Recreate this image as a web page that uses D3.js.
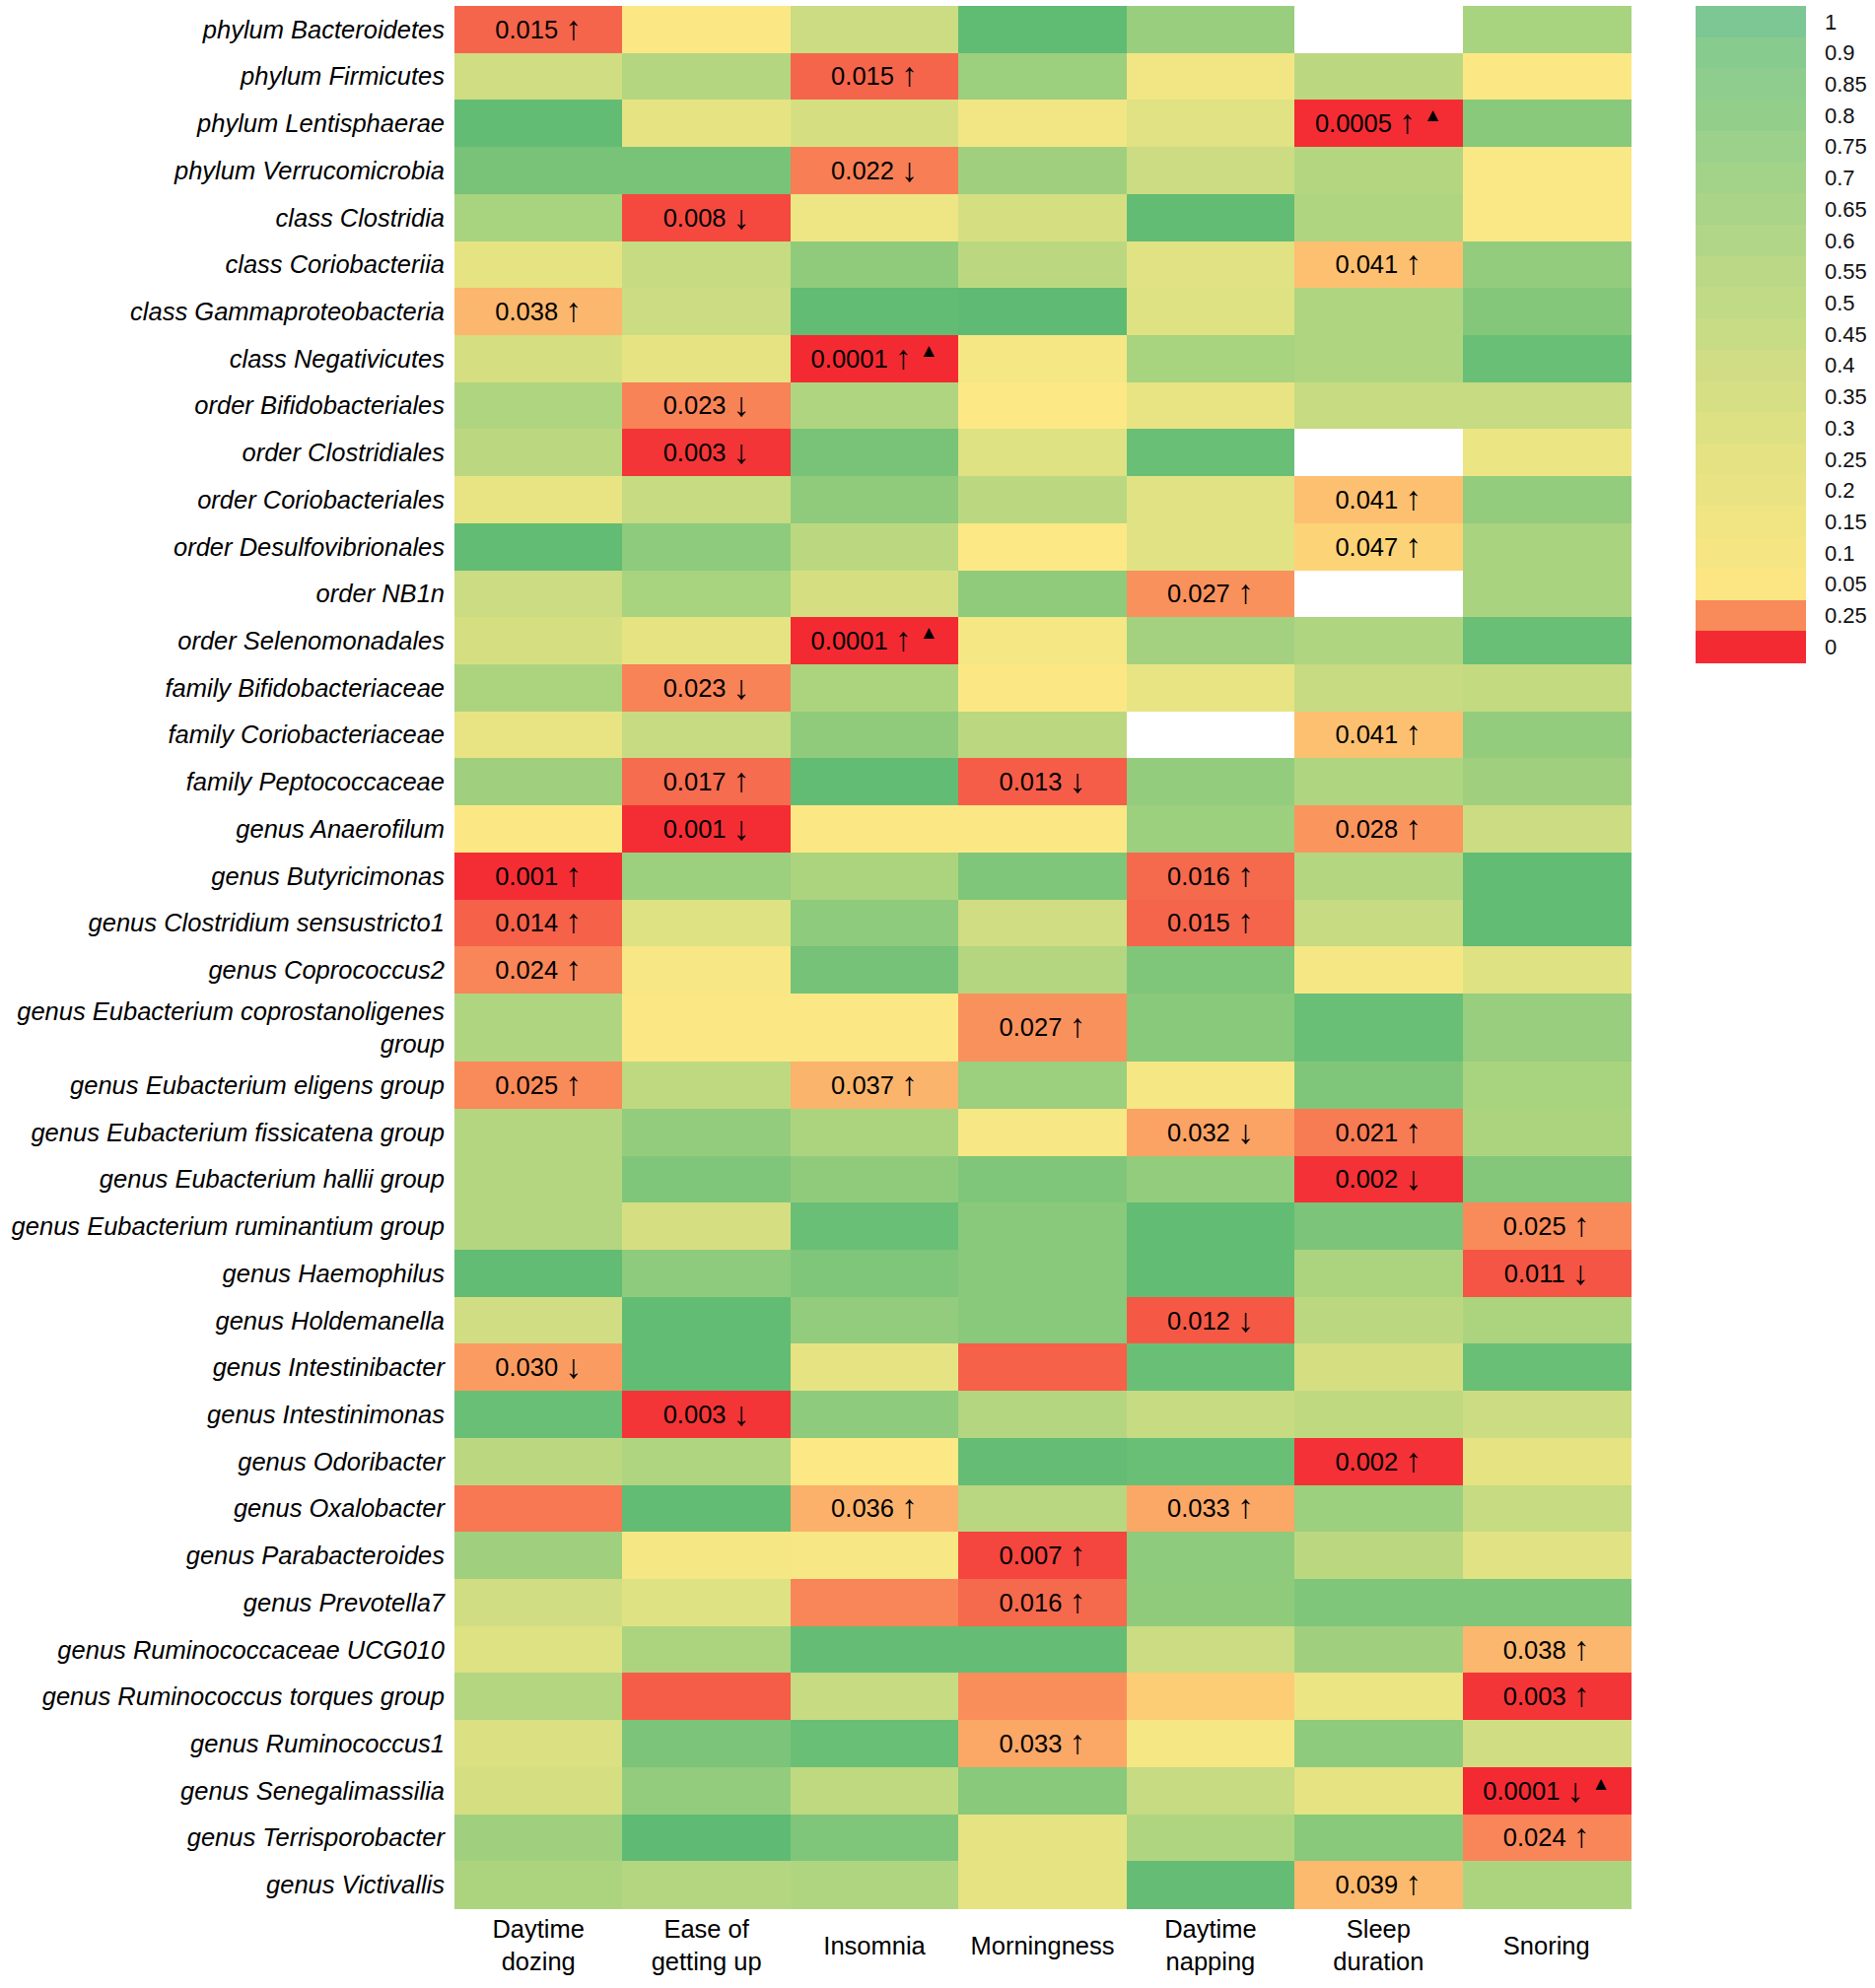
<!DOCTYPE html>
<html><head><meta charset="utf-8">
<script src="https://cdn.jsdelivr.net/npm/d3@7"></script>
<style>body{margin:0;background:#fff}</style>
</head><body>
<svg id="chart" width="1902" height="2017"></svg>
<script>
// ---------------- DATA ----------------
const taxa = [
  "phylum Bacteroidetes","phylum Firmicutes","phylum Lentisphaerae","phylum Verrucomicrobia",
  "class Clostridia","class Coriobacteriia","class Gammaproteobacteria","class Negativicutes",
  "order Bifidobacteriales","order Clostridiales","order Coriobacteriales","order Desulfovibrionales",
  "order NB1n","order Selenomonadales","family Bifidobacteriaceae","family Coriobacteriaceae",
  "family Peptococcaceae","genus Anaerofilum","genus Butyricimonas","genus Clostridium sensustricto1",
  "genus Coprococcus2","genus Eubacterium coprostanoligenes group","genus Eubacterium eligens group",
  "genus Eubacterium fissicatena group","genus Eubacterium hallii group","genus Eubacterium ruminantium group",
  "genus Haemophilus","genus Holdemanella","genus Intestinibacter","genus Intestinimonas",
  "genus Odoribacter","genus Oxalobacter","genus Parabacteroides","genus Prevotella7",
  "genus Ruminococcaceae UCG010","genus Ruminococcus torques group","genus Ruminococcus1",
  "genus Senegalimassilia","genus Terrisporobacter","genus Victivallis"
];
const traits = ["Daytime dozing","Ease of getting up","Insomnia","Morningness","Daytime napping","Sleep duration","Snoring"];

// p-values per trait (row order = taxa); null = no value
const daytimeDozing   = [0.015,0.40,0.93,0.85,0.62,0.25,0.038,0.37,0.58,0.52,0.23,0.93,0.43,0.37,0.60,0.23,0.66,0.07,0.001,0.014,0.024,0.58,0.025,0.56,0.56,0.56,0.93,0.40,0.030,0.90,0.52,0.020,0.66,0.40,0.31,0.56,0.33,0.37,0.66,0.60];
const easeOfGettingUp = [0.07,0.56,0.25,0.85,0.008,0.46,0.43,0.25,0.023,0.003,0.46,0.75,0.62,0.25,0.023,0.46,0.017,0.001,0.68,0.31,0.10,0.07,0.50,0.72,0.82,0.37,0.75,0.93,0.93,0.003,0.58,0.93,0.12,0.31,0.60,0.013,0.84,0.72,0.96,0.56];
const insomnia        = [0.43,0.015,0.37,0.022,0.18,0.74,0.93,0.0001,0.58,0.85,0.74,0.52,0.37,0.0001,0.60,0.74,0.93,0.07,0.60,0.75,0.86,0.07,0.037,0.60,0.74,0.90,0.82,0.72,0.25,0.75,0.06,0.036,0.10,0.024,0.92,0.46,0.90,0.50,0.82,0.58];
const morningness     = [0.95,0.68,0.15,0.66,0.37,0.52,0.96,0.12,0.06,0.31,0.52,0.06,0.74,0.12,0.07,0.52,0.013,0.07,0.82,0.40,0.56,0.027,0.68,0.10,0.82,0.78,0.78,0.78,0.014,0.56,0.92,0.54,0.007,0.016,0.92,0.026,0.033,0.78,0.25,0.25];
const daytimeNapping  = [0.70,0.15,0.30,0.43,0.93,0.30,0.31,0.62,0.23,0.90,0.30,0.30,0.027,0.64,0.23,null,0.72,0.68,0.016,0.015,0.82,0.78,0.12,0.032,0.72,0.93,0.93,0.012,0.90,0.46,0.90,0.033,0.75,0.74,0.43,0.045,0.12,0.46,0.58,0.92];
const sleepDuration   = [null,0.52,0.0005,0.56,0.58,0.041,0.58,0.58,0.46,null,0.041,0.047,null,0.58,0.46,0.041,0.58,0.028,0.56,0.46,0.12,0.90,0.82,0.021,0.002,0.84,0.60,0.52,0.37,0.50,0.002,0.68,0.52,0.82,0.66,0.20,0.75,0.25,0.78,0.039];
const snoring         = [0.62,0.07,0.78,0.08,0.08,0.72,0.80,0.90,0.46,0.20,0.72,0.61,0.61,0.90,0.48,0.72,0.66,0.43,0.93,0.93,0.31,0.70,0.62,0.60,0.80,0.025,0.011,0.60,0.90,0.43,0.25,0.46,0.30,0.82,0.038,0.003,0.40,0.0001,0.024,0.60];
const seriesByTrait = [daytimeDozing,easeOfGettingUp,insomnia,morningness,daytimeNapping,sleepDuration,snoring];

// labelled cells: [taxon, trait, p text, direction, marked with triangle]
const annotations = [
  ["phylum Bacteroidetes","Daytime dozing","0.015","↑",false],
  ["phylum Firmicutes","Insomnia","0.015","↑",false],
  ["phylum Lentisphaerae","Sleep duration","0.0005","↑",true],
  ["phylum Verrucomicrobia","Insomnia","0.022","↓",false],
  ["class Clostridia","Ease of getting up","0.008","↓",false],
  ["class Coriobacteriia","Sleep duration","0.041","↑",false],
  ["class Gammaproteobacteria","Daytime dozing","0.038","↑",false],
  ["class Negativicutes","Insomnia","0.0001","↑",true],
  ["order Bifidobacteriales","Ease of getting up","0.023","↓",false],
  ["order Clostridiales","Ease of getting up","0.003","↓",false],
  ["order Coriobacteriales","Sleep duration","0.041","↑",false],
  ["order Desulfovibrionales","Sleep duration","0.047","↑",false],
  ["order NB1n","Daytime napping","0.027","↑",false],
  ["order Selenomonadales","Insomnia","0.0001","↑",true],
  ["family Bifidobacteriaceae","Ease of getting up","0.023","↓",false],
  ["family Coriobacteriaceae","Sleep duration","0.041","↑",false],
  ["family Peptococcaceae","Ease of getting up","0.017","↑",false],
  ["family Peptococcaceae","Morningness","0.013","↓",false],
  ["genus Anaerofilum","Ease of getting up","0.001","↓",false],
  ["genus Anaerofilum","Sleep duration","0.028","↑",false],
  ["genus Butyricimonas","Daytime dozing","0.001","↑",false],
  ["genus Butyricimonas","Daytime napping","0.016","↑",false],
  ["genus Clostridium sensustricto1","Daytime dozing","0.014","↑",false],
  ["genus Clostridium sensustricto1","Daytime napping","0.015","↑",false],
  ["genus Coprococcus2","Daytime dozing","0.024","↑",false],
  ["genus Eubacterium coprostanoligenes group","Morningness","0.027","↑",false],
  ["genus Eubacterium eligens group","Daytime dozing","0.025","↑",false],
  ["genus Eubacterium eligens group","Insomnia","0.037","↑",false],
  ["genus Eubacterium fissicatena group","Daytime napping","0.032","↓",false],
  ["genus Eubacterium fissicatena group","Sleep duration","0.021","↑",false],
  ["genus Eubacterium hallii group","Sleep duration","0.002","↓",false],
  ["genus Eubacterium ruminantium group","Snoring","0.025","↑",false],
  ["genus Haemophilus","Snoring","0.011","↓",false],
  ["genus Holdemanella","Daytime napping","0.012","↓",false],
  ["genus Intestinibacter","Daytime dozing","0.030","↓",false],
  ["genus Intestinimonas","Ease of getting up","0.003","↓",false],
  ["genus Odoribacter","Sleep duration","0.002","↑",false],
  ["genus Oxalobacter","Insomnia","0.036","↑",false],
  ["genus Oxalobacter","Daytime napping","0.033","↑",false],
  ["genus Parabacteroides","Morningness","0.007","↑",false],
  ["genus Prevotella7","Morningness","0.016","↑",false],
  ["genus Ruminococcaceae UCG010","Snoring","0.038","↑",false],
  ["genus Ruminococcus torques group","Snoring","0.003","↑",false],
  ["genus Ruminococcus1","Morningness","0.033","↑",false],
  ["genus Senegalimassilia","Snoring","0.0001","↓",true],
  ["genus Terrisporobacter","Snoring","0.024","↑",false],
  ["genus Victivallis","Sleep duration","0.039","↑",false]
];

const legendLabels = ["1","0.9","0.85","0.8","0.75","0.7","0.65","0.6","0.55","0.5","0.45","0.4","0.35","0.3","0.25","0.2","0.15","0.1","0.05","0.25","0"];
const legendValues = [1,0.9,0.85,0.8,0.75,0.7,0.65,0.6,0.55,0.5,0.45,0.4,0.35,0.3,0.25,0.2,0.15,0.1,0.05,0.025,0];

// ---------------- SCALES / STYLE ----------------
const FONT = "'Liberation Sans', Arial, Helvetica, sans-serif";
const svg = d3.select("#chart");
svg.append("rect").attr("width",1902).attr("height",2017).attr("fill","#fff");

const greenScale = d3.scaleLinear()
  .domain([0.05,0.15,0.3,0.43,0.56,0.68,0.82,0.93,1])
  .range(["#FDE885","#F2E684","#E0E283","#CCDC82","#B4D680","#9CCF7E","#80C67A","#62BC74","#5CBA72"])
  .clamp(true);
const sigScale = d3.scaleLinear()
  .domain([0,0.001,0.015,0.025,0.035,0.05])
  .range(["#F42A32","#F42D34","#F5654B","#F98A59","#FBAE69","#FDDC7B"])
  .clamp(true);
const legendGreen = d3.scaleLinear()
  .domain([0.05,0.3,0.55,0.8,0.9,1])
  .range(["#FCE683","#DEE183","#BAD886","#93CF8B","#88CB8E","#7CC794"]);
const cellColor = v => v == null ? "#ffffff" : (v < 0.05 ? sigScale(v) : greenScale(v));

const x = d3.scaleBand().domain(traits).range([461,1654]).padding(0);

// measure row labels to decide wrapping
const labelFont = 25.5, maxLabelW = 480;
const measurer = svg.append("text").attr("font-family",FONT).attr("font-size",labelFont).attr("font-style","italic");
function wrapWords(text, maxW, m){
  const words = text.split(" "); const lines=[]; let cur="";
  words.forEach(w=>{
    const t = cur ? cur+" "+w : w;
    m.text(t);
    if (m.node().getComputedTextLength() > maxW && cur){ lines.push(cur); cur=w; } else cur=t;
  });
  if (cur) lines.push(cur);
  return lines;
}
const rowLines = taxa.map(t => wrapWords(t, maxLabelW, measurer));
const rowWeights = rowLines.map(l => l.length > 1 ? 1.45 : 1);
const cum = [0]; rowWeights.forEach((w,i)=>cum.push(cum[i]+w));
const yUnit = d3.scaleLinear().domain([0,cum[cum.length-1]]).range([6,1936]);
const rowTop = i => yUnit(cum[i]);
const rowH = i => yUnit(cum[i+1]) - yUnit(cum[i]);

// ---------------- CELLS ----------------
const cells = [];
taxa.forEach((t,i)=>traits.forEach((tr,j)=>cells.push({i,t,tr,v:seriesByTrait[j][i]})));
svg.append("g").attr("shape-rendering","crispEdges")
  .selectAll("rect").data(cells).join("rect")
  .attr("x",d=>x(d.tr)).attr("y",d=>rowTop(d.i))
  .attr("width",x.bandwidth()+0.5).attr("height",d=>rowH(d.i)+0.5)
  .attr("fill",d=>cellColor(d.v));

// annotations
const ag = svg.append("g").attr("font-family",FONT).attr("font-size",25.5).attr("fill","#000");
annotations.forEach(a=>{
  const i = taxa.indexOf(a[0]);
  const cx = x(a[1]) + x.bandwidth()/2;
  const cy = rowTop(i) + rowH(i)/2;
  const t = ag.append("text").attr("x",cx).attr("y",cy).attr("dy","0.35em").attr("text-anchor","middle");
  t.append("tspan").text(a[2]+" ");
  t.append("tspan").attr("font-size",34).attr("dy",a[3]==="↑"?1:2).text(a[3]);
  if (a[4]) t.append("tspan").attr("font-size",19).attr("dx",8).attr("dy",-12).text("▲");
});

// row labels
measurer.remove();
const rl = svg.append("g").attr("font-family",FONT).attr("font-size",labelFont).attr("font-style","italic").attr("fill","#000");
rowLines.forEach((lines,i)=>{
  const cy = rowTop(i) + rowH(i)/2;
  const lh = 33;
  const t = rl.append("text").attr("text-anchor","end");
  lines.forEach((ln,k)=>{
    t.append("tspan").attr("x",451).attr("y",cy + (k-(lines.length-1)/2)*lh).attr("dy","0.35em").text(ln);
  });
});

// column labels
const cm = svg.append("text").attr("font-family",FONT).attr("font-size",25.5);
const colLines = traits.map(t=>wrapWords(t, x.bandwidth()-8, cm));
cm.remove();
const cl = svg.append("g").attr("font-family",FONT).attr("font-size",25.5).attr("fill","#000");
traits.forEach((tr,j)=>{
  const lines = colLines[j];
  const cx = x(tr)+x.bandwidth()/2;
  const t = cl.append("text").attr("text-anchor","middle");
  lines.forEach((ln,k)=>{
    t.append("tspan").attr("x",cx).attr("y",1974+(k-(lines.length-1)/2)*33).attr("dy","0.35em").text(ln);
  });
});

// ---------------- LEGEND ----------------
const ly = d3.scaleBand().domain(d3.range(legendLabels.length)).range([6,672]).padding(0);
const lg = svg.append("g");
lg.selectAll("rect").data(legendValues).join("rect")
  .attr("shape-rendering","crispEdges")
  .attr("x",1720).attr("width",112)
  .attr("y",(d,k)=>ly(k)).attr("height",ly.bandwidth()+0.5)
  .attr("fill",(d,k)=> k<19 ? legendGreen(d) : sigScale(d));
lg.selectAll("text").data(legendLabels).join("text")
  .attr("x",1851).attr("y",(d,k)=>ly(k)+ly.bandwidth()/2).attr("dy","0.35em")
  .attr("font-family",FONT).attr("font-size",22).attr("fill","#111")
  .text(d=>d);
</script>
</body></html>
